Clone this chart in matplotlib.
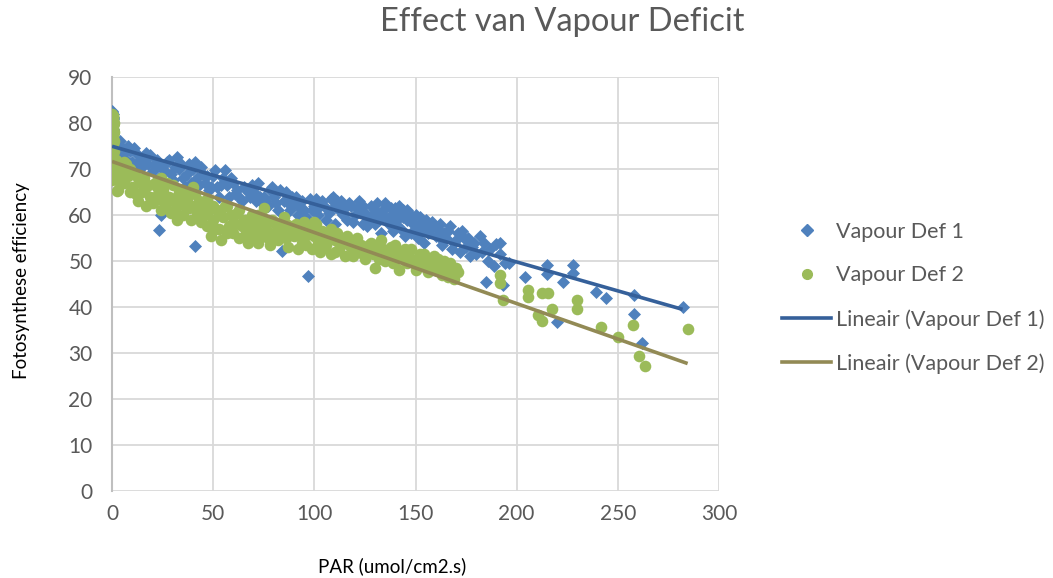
import numpy as np
import matplotlib
matplotlib.use("Agg")
import matplotlib.pyplot as plt
from matplotlib.lines import Line2D

# Vapour Def 1 (blue diamonds)
def1_par = [
    0, 0, 0, 0, 0, 0, 0, 0, 0, 0, 0, 0, 0,
    0.5, 0.5, 0.5, 0.5, 0.5, 0.5, 0.5, 0.5, 0.5, 0.5,
    0, 0, 0, 0, 0, 0, 0, 0, 0.3, 0.3, 0.3, 0.3, 0.3, 0.3, 0.3, 0.3,
    3, 5, 4, 7, 9, 10, 8, 12, 14, 15, 17, 18, 20, 22, 24, 23, 25, 24, 23,
    27, 29, 30, 32, 33, 35, 36, 38, 40, 41, 42, 43, 45, 46, 41, 48, 50, 51,
    52, 53, 55, 56, 57, 58, 60, 62, 63, 64, 65, 66, 68, 70, 71, 72, 74, 75,
    77, 78, 80, 82, 83, 84, 85, 86, 88, 89, 90, 92, 94, 95, 96, 97, 98, 100,
    101, 102, 104, 105, 106, 108, 110, 110, 112, 113, 115, 116, 118, 119,
    120, 122, 123, 124, 125, 126, 128, 129, 130, 131, 132, 133, 134, 135,
    136, 137, 138, 139, 140, 141, 142, 143, 144, 145, 146, 147, 148, 149,
    150, 151, 152, 153, 154, 155, 156, 158, 160, 161, 162, 163, 164, 166,
    168, 170, 171, 172, 174, 175, 178, 180, 182, 184, 185, 186, 190, 192,
    2, 4, 6, 8, 11, 13, 16, 19, 21, 26, 28, 31, 34, 37, 39, 44, 47, 49,
    54, 59, 61, 67, 69, 73, 76, 79, 81, 87, 91, 93, 99, 103, 107, 109,
    111, 114, 117, 121, 124, 127, 130, 133, 135, 138, 140, 142, 144, 146,
    148, 150, 152, 155, 157, 159, 162, 165, 167, 169, 173, 176, 177, 179,
    183, 187, 189, 194,
    192, 193, 196, 204, 215, 215, 223, 220, 228, 228, 239, 244, 258, 258,
    262, 282,
]
def1_eff = [
    82.5, 81.5, 80.5, 79, 78, 77, 76, 75, 74, 73, 72, 71, 70,
    82, 81, 80, 79.5, 78.5, 77.5, 76.5, 75.5, 74.5, 73.5,
    82.3, 81.8, 81, 80, 79.3, 78.3, 77.3, 76.3, 81.3, 80.8, 79.8, 78.8,
    77.8, 76.8, 75.8, 74.8,
    75.5, 74.5, 73, 72, 74, 71.5, 70, 73.5, 72, 70.5, 73.5, 71, 69.5, 72,
    70.5, 68, 66, 60, 56.8,
    71.5, 69, 67.5, 72.5, 70, 68, 66, 71, 70, 71.5, 68, 66.5, 69, 67, 53.3,
    65.5, 68.5, 69.8,
    66, 64, 68, 69.7, 66.5, 64, 67, 65.5, 64, 63, 66, 55, 64, 65, 63, 67,
    62.5, 64,
    62, 65.5, 64, 61, 65.5, 52.2, 63, 65, 61, 64, 62.5, 60, 63, 61, 59.5,
    46.7, 63.5, 62,
    63.5, 60, 63, 62, 59, 63.5, 62, 58, 61, 63, 61.5, 59, 62, 58.5,
    60, 63, 61, 58, 60.5, 57.5, 62, 60, 58, 62.5, 59, 56, 61, 59.5,
    62, 58, 60, 56.5, 61.5, 59, 60.5, 57, 61, 55.5, 59, 60.5, 56, 58,
    60, 55, 57, 58.5, 54, 57.5, 56, 58.5, 55.5, 57, 58, 53.5, 56, 56.5,
    52.5, 54.5, 56, 52, 55, 53, 53, 51.5, 55.5, 54, 45.5, 50, 53.7, 51.5,
    74, 76, 73.5, 75, 74.5, 71, 72.5, 73, 71, 69.5, 72, 70.5, 71, 69, 67,
    70.5, 68.5, 66,
    66.5, 68, 64.5, 65, 66.5, 64, 63, 66, 62.5, 62.5, 64, 61.5, 61, 62,
    60.5, 64,
    63, 60, 62.5, 61.5, 62, 59, 61, 60, 62.5, 61.5, 58, 62, 59.5, 61,
    59.5, 57.5, 59.5, 59, 57, 57.5, 55, 55, 57.5, 54, 56.5, 55, 51, 54,
    52, 52.5, 49, 49.5,
    53.9, 44.8, 49.5, 46.5, 49.1, 47.2, 45.4, 36.7, 49.1, 47.4, 43.3, 41.9,
    42.6, 38.5,
    32.2, 40,
]

# Vapour Def 2 (green circles)
def2_par = [
    0, 0, 0, 0, 0, 0, 0, 0, 0, 0, 0, 0, 0, 0, 0, 0,
    0.5, 0.5, 0.5, 0.5, 0.5, 0.5, 0.5, 0.5, 0.5, 0.5, 0.5, 0.5, 0.5, 0.5,
    1, 1, 1, 1, 1,
    0, 0, 0, 0, 0, 0, 0, 0, 0, 0, 0, 0, 0, 0, 0,
    0.3, 0.3, 0.3, 0.3, 0.3, 0.3, 0.3, 0.3, 0.3, 0.3, 0.3, 0.3, 0.3, 0.3,
    0.3,
    1, 2, 2.5, 3, 5, 6, 7, 8, 10, 11, 12, 14, 15, 16, 18, 19, 20, 22, 23,
    25, 26, 27, 28, 29, 30, 31, 33, 34, 35, 37, 38, 39, 40, 41, 42, 44, 45,
    46, 47, 48, 49, 50, 52, 53, 54, 55, 56, 58, 59, 60, 61, 62, 63, 64, 65,
    66, 67, 68, 70, 72, 72, 73, 74, 75, 76, 78, 79, 80, 81, 82, 84, 85, 86,
    87, 88, 90, 91, 92, 93, 94, 95, 96, 98, 99, 100, 101, 102, 103, 104,
    106, 107, 108, 110, 111, 112, 114, 115, 116, 118, 119, 120, 122, 123,
    125, 126, 128, 129, 130, 131, 132, 134, 135, 136, 138, 139, 140, 141,
    142, 143, 145, 146, 147, 149, 150, 152, 153, 155, 156, 158, 160, 161,
    163, 165, 166, 168, 169, 170,
    2, 4, 4, 6, 9, 9, 13, 13, 17, 17, 21, 21, 24, 24, 27, 30, 32, 32, 36,
    36, 40, 43, 43, 47, 50, 51, 54, 57, 57, 60, 63, 66, 69, 69, 71, 74, 77,
    77, 80, 83, 86, 89, 92, 95, 97, 100, 102, 105, 105, 108, 110, 113, 117,
    121, 124, 127, 130, 133, 137, 140, 144, 148, 151, 154, 157, 159, 162,
    164, 167, 171,
    192, 192, 193, 205.5, 205.5, 212.5, 215.5, 210.5, 212.5, 217.5, 230,
    230, 241.5, 250, 257.5, 260.5, 263.5, 284.5,
]
def2_eff = [
    82, 81, 80, 79, 78, 77, 76, 75, 74, 73, 72, 71, 70, 69, 68, 67.5,
    81.5, 80.5, 79.5, 78.5, 77.5, 76.5, 75.5, 74.5, 73.5, 72.5, 71.5, 70.5,
    69.5, 68.5,
    80, 78, 76, 74, 72,
    81.8, 81.3, 80.8, 80.3, 79.8, 79.3, 78.8, 78.3, 77.8, 77.3, 76.8, 76.3,
    75.8, 75.3, 74.8,
    81.6, 81.1, 80.6, 80.1, 79.6, 79.1, 78.6, 78.1, 77.6, 77.1, 76.6, 76.1,
    75.6, 73.8, 72.8,
    70, 68, 65.3, 65.5, 69, 67, 71, 68.5, 66, 69, 64.5, 67, 65, 68, 66.5,
    64, 62.5, 66, 63.5,
    65.5, 62, 67, 64, 60.5, 63, 61, 65, 62.5, 60, 63.5, 61.5, 59, 62, 64.5,
    60.5, 58.5, 62,
    60, 57.5, 61, 55.5, 59, 61, 57, 54.5, 59.5, 62, 57.5, 60, 56, 58, 60.5,
    55, 57.5, 59,
    56, 54, 58, 56.5, 54, 60, 57.5, 55.5, 61.5, 57, 53.5, 59, 56, 58, 54.5,
    57, 59.5, 55,
    53, 57.5, 55.5, 58, 52.5, 56, 54, 58.5, 53.5, 56, 52.5, 55.5, 58, 54,
    52, 56.5,
    53.5, 55.5, 51.5, 54.5, 56, 52.5, 54, 51, 55.5, 53, 51, 54.5, 52, 53.5,
    50.5, 52.5, 54, 51.5, 48.5, 53, 50.5, 52.5, 50, 51.5, 53, 49.5, 52,
    50.5,
    48, 51, 52.5, 49.5, 51, 50, 48, 51.5, 49, 50.5, 47.5, 49.5, 48.5, 50.5,
    47, 48.5, 46.5, 47.5, 46, 48.5,
    72, 70, 67, 71.5, 70, 65, 68, 63, 66, 62, 67, 64, 68, 61, 63, 66.5, 64,
    59, 65,
    62, 66, 63, 59.5, 63.5, 62, 57, 60, 62, 56, 59.5, 61, 59, 60, 55, 58,
    59.5, 58.5,
    55, 58.5, 56, 58, 56, 57, 55, 57, 58.5, 56, 55.5, 53, 57, 52, 55, 53.5,
    55, 51.5, 53.5, 52, 54.5, 52, 53.5, 52, 52.5, 50, 51.5, 50, 51, 49,
    50, 49.5, 47.5,
    47, 45.2, 41.5, 43.7, 42.2, 43, 43, 38.3, 37, 39.6, 41.5,
    39.6, 35.7, 33.5, 36.1, 29.3, 27.2, 35.2,
]

x_ticks = [0, 50, 100, 150, 200, 250, 300]
y_ticks = [0, 10, 20, 30, 40, 50, 60, 70, 80, 90]

blue = "#4F81BD"
green = "#9BBB59"
trend_blue = "#35609A"
trend_green = "#928A55"
text_col = "#595959"
grid_col = "#D9D9D9"

plt.rcParams["font.family"] = ["Lato", "DejaVu Sans"]

fig = plt.figure(figsize=(10.53, 5.78), dpi=100)
ax = fig.add_axes([0.1064, 0.1505, 0.5764, 0.7163])

ax.scatter(def1_par, def1_eff, marker="D", s=44, color=blue, linewidths=0, zorder=3)
ax.scatter(def2_par, def2_eff, marker="o", s=70, color=green, linewidths=0, zorder=4)

# linear trendlines, fitted like Excel does
for px, py, col in [(def1_par, def1_eff, trend_blue), (def2_par, def2_eff, trend_green)]:
    slope, icept = np.polyfit(px, py, 1)
    xs = np.array([min(px), max(px)])
    ax.plot(xs, icept + slope * xs, color=col, lw=2.6, zorder=5, solid_capstyle="butt")

ax.set_xlim(0, 300)
ax.set_ylim(0, 90)
ax.set_xticks(x_ticks)
ax.set_yticks(y_ticks)
ax.grid(True, color=grid_col, lw=1.3, zorder=0)
ax.set_axisbelow(True)
for side in ["top", "right", "bottom"]:
    ax.spines[side].set_visible(False)
ax.spines["left"].set_color("#BFBFBF")
ax.spines["left"].set_linewidth(1.5)
ax.tick_params(length=0, labelsize=15, labelcolor=text_col)
ax.tick_params(axis="y", pad=14)
ax.tick_params(axis="x", pad=9)

fig.text(0.02, 0.515, "Fotosynthese efficiency", rotation=90, ha="center", va="center",
         fontsize=13.5, color="black")
fig.text(0.372, 0.02, "PAR (umol/cm2.s)", ha="center", va="center", fontsize=13.5, color="black")
fig.text(0.534, 0.962, "Effect van Vapour Deficit", ha="center", va="center",
         fontsize=23.5, color=text_col)

handles = [
    Line2D([], [], marker="D", color=blue, ls="none", markersize=6),
    Line2D([], [], marker="o", color=green, ls="none", markersize=7),
    Line2D([], [], color=trend_blue, lw=2.6),
    Line2D([], [], color=trend_green, lw=2.6),
]
labels = ["Vapour Def 1", "Vapour Def 2", "Lineair (Vapour Def 1)", "Lineair (Vapour Def 2)"]
fig.legend(handles, labels, loc="center left", bbox_to_anchor=(0.724, 0.485), frameon=False,
           fontsize=15.5, labelcolor=text_col, handlelength=2.3, handletextpad=0.2,
           labelspacing=1.1)

fig.savefig("out.png", dpi=100)
